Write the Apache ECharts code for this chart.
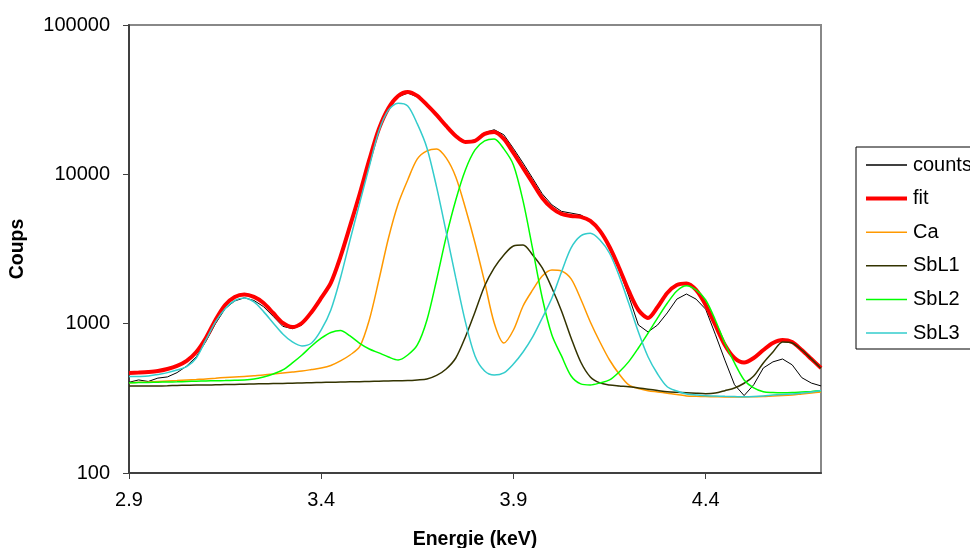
<!DOCTYPE html>
<html>
<head>
<meta charset="utf-8">
<script src="https://cdn.jsdelivr.net/npm/echarts@6/dist/echarts.min.js"></script>
<style>
html,body{margin:0;padding:0;background:#fff;}
#chart{width:970px;height:548px;}
</style>
</head>
<body>
<div id="chart"></div>
<script>
// Energy grid (keV)
const energy = [
2.900,2.925,2.950,2.975,3.000,3.025,3.050,3.075,3.100,3.125,
3.150,3.175,3.200,3.225,3.250,3.275,3.300,3.325,3.350,3.375,
3.400,3.425,3.450,3.475,3.500,3.525,3.550,3.575,3.600,3.625,
3.650,3.675,3.700,3.725,3.750,3.775,3.800,3.825,3.850,3.875,
3.900,3.925,3.950,3.975,4.000,4.025,4.050,4.075,4.100,4.125,
4.150,4.175,4.200,4.225,4.250,4.275,4.300,4.325,4.350,4.375,
4.400,4.425,4.450,4.475,4.500,4.525,4.550,4.575,4.600,4.625,
4.650,4.675,4.700];

const counts = [
405,420,410,432,440,470,520,600,760,1000,
1260,1420,1490,1430,1300,1120,960,925,980,1170,
1460,1850,2750,4450,7300,12300,19900,27500,33000,35000,
33000,28800,24800,21000,18100,16600,17000,19000,19900,18400,
14900,11900,9400,7400,6250,5650,5500,5350,4900,4150,
3200,2300,1530,980,880,980,1180,1460,1580,1460,
1250,850,570,390,330,390,505,555,580,530,
435,400,383];

const fit = [
468,471,475,482,497,521,563,646,802,1059,
1334,1510,1569,1510,1376,1179,1011,950,1011,1198,
1486,1873,2798,4512,7390,12490,20140,27840,33500,35630,
33500,29150,24990,21100,18080,16480,16740,18650,19230,17270,
13910,11040,8760,6950,5956,5430,5265,5185,4875,4178,
3263,2361,1656,1235,1092,1294,1606,1816,1859,1682,
1334,980,720,589,550,589,666,742,778,754,
666,580,505];

const ca = [
402,405,407,410,413,416,420,423,426,431,
436,440,443,448,453,460,468,475,482,493,
505,525,563,617,701,1059,1962,3750,6335,9174,
12680,14350,14800,12880,9608,5956,3472,1903,1011,742,
907,1314,1682,2087,2289,2254,1993,1463,1027,754,
571,460,389,368,356,349,342,336,328,326,
325,324,323,323,323,324,325,328,330,333,
338,343,349];

const sbl1 = [
383,383,383,383,384,386,387,388,388,390,
391,392,393,395,396,397,398,399,401,402,
404,405,407,408,409,410,412,413,415,416,
420,426,450,497,589,815,1198,1789,2361,2886,
3315,3366,2886,2361,1734,1217,802,554,440,401,
389,383,378,371,364,357,350,347,345,342,
340,343,356,371,399,446,546,646,754,742,
666,580,503];

const sbl2 = [
402,403,404,406,407,408,410,412,413,415,
416,418,420,426,440,460,490,546,617,709,
799,873,901,827,739,677,637,598,571,617,
720,1059,1962,3808,6738,10700,14570,16740,17270,14800,
11560,6634,3164,1486,840,608,446,395,389,401,
420,475,557,687,863,1092,1369,1656,1797,1682,
1441,1059,739,546,420,371,350,346,345,346,
349,352,356];

const sbl3 = [
442,443,446,457,470,490,515,589,778,1027,
1260,1430,1486,1397,1204,1011,853,754,709,742,
907,1235,2024,3636,6433,11260,19530,26990,29940,28720,
21760,15030,8235,4113,2024,1027,608,482,453,468,
537,646,815,1092,1486,2220,3214,3868,4031,3636,
2961,2087,1369,880,601,460,378,354,338,333,
329,328,326,325,324,325,328,333,336,338,
343,349,357];

const xTicks = [2.9, 3.4, 3.9, 4.4];
const yTicks = [100, 1000, 10000, 100000];

const seriesDefs = [
  {name: 'counts', data: counts, color: '#000000', width: 1, smooth: false},
  {name: 'fit',    data: fit,    color: '#FF0000', width: 4, smooth: 0.3},
  {name: 'Ca',     data: ca,     color: '#FF9900', width: 1.5, smooth: 0.3},
  {name: 'SbL1',   data: sbl1,   color: '#333300', width: 1.5, smooth: 0.3},
  {name: 'SbL2',   data: sbl2,   color: '#00FF00', width: 1.5, smooth: 0.3},
  {name: 'SbL3',   data: sbl3,   color: '#33CCCC', width: 1.5, smooth: 0.3}
];

const FONT = "'Liberation Sans', Arial, sans-serif";
const chart = echarts.init(document.getElementById('chart'), null, {renderer: 'canvas'});

chart.setOption({
  animation: false,
  backgroundColor: '#ffffff',
  grid: {
    left: 129, right: 149, top: 25, bottom: 75,
    show: true, borderColor: '#888888', borderWidth: 2, backgroundColor: 'transparent'
  },
  legend: {
    orient: 'vertical',
    left: 856, top: 147,
    padding: [8, 20, 6, 8],
    itemWidth: 41, itemHeight: 14, itemGap: 13.6,
    backgroundColor: '#ffffff',
    borderColor: '#000000', borderWidth: 1,
    itemStyle: {opacity: 0},
    textStyle: {fontFamily: FONT, fontSize: 20, color: '#000', padding: [0, 0, 0, 1]},
    data: seriesDefs.map(s => ({name: s.name, lineStyle: {width: s.width === 4 ? 4 : 1.5, color: s.color}}))
  },
  xAxis: {
    type: 'value',
    min: 2.9, max: 4.7, interval: 0.5,
    axisLine: {show: true, lineStyle: {color: '#404040', width: 2}},
    axisTick: {show: true, inside: false, length: 6, lineStyle: {color: '#404040', width: 1}},
    axisLabel: {
      fontFamily: FONT, fontSize: 20, color: '#000', margin: 17,
      showMaxLabel: false,
      formatter: v => {
        const m = xTicks.find(t => Math.abs(t - v) < 1e-6);
        return m === undefined ? '' : m.toFixed(1);
      }
    },
    splitLine: {show: false}
  },
  yAxis: {
    type: 'log', logBase: 10, min: 100, max: 100000,
    axisLine: {show: true, lineStyle: {color: '#404040', width: 2}},
    axisTick: {show: true, inside: false, length: 6, lineStyle: {color: '#404040', width: 1}},
    minorTick: {show: false},
    axisLabel: {
      fontFamily: FONT, fontSize: 20, color: '#000', margin: 19,
      formatter: v => {
        const m = yTicks.find(t => Math.abs(t - v) / t < 1e-6);
        return m === undefined ? '' : String(m);
      }
    },
    splitLine: {show: false}
  },
  graphic: [
    {type: 'text', x: 18, y: 249, rotation: Math.PI / 2,
     style: {text: 'Coups', fontFamily: FONT, fontWeight: 'bold', fontSize: 19.5, fill: '#000',
             align: 'center', verticalAlign: 'middle'}},
    {type: 'text', x: 475, y: 540,
     style: {text: 'Energie (keV)', fontFamily: FONT, fontWeight: 'bold', fontSize: 19.5, fill: '#000',
             align: 'center', verticalAlign: 'middle'}}
  ],
  series: seriesDefs.map((s, k) => ({
    name: s.name,
    type: 'line',
    data: energy.map((e, i) => [e, s.data[i]]),
    showSymbol: false,
    symbol: 'none',
    smooth: s.smooth,
    z: 2 + k,
    lineStyle: {color: s.color, width: s.width},
    itemStyle: {color: s.color},
    emphasis: {disabled: true}
  }))
});
</script>
</body>
</html>
